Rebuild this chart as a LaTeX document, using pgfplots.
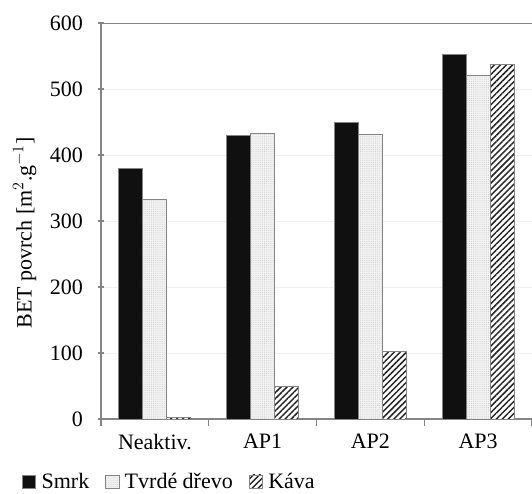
\documentclass[border=0pt]{standalone}
\usepackage{pgfplots}
\pgfplotsset{compat=1.18}
\usepackage{fontspec}
\setmainfont{Liberation Serif}
\usetikzlibrary{patterns,patterns.meta}
\definecolor{axgray}{HTML}{858585}
\definecolor{barblack}{HTML}{101010}
\begin{document}
\begin{tikzpicture}[font=\fontsize{16.5}{19}\selectfont]
\begin{axis}[
  scale only axis,
  width=323.25pt, height=297pt,
  xmin=-0.5, xmax=3.5,
  ymin=0, ymax=600,
  ytick={0,100,200,300,400,500,600},
  xtick={0,1,2,3},
  xticklabels={Neaktiv.,AP1,AP2,AP3},
  major x tick style={draw=none},
  minor xtick={-0.5,0.5,1.5,2.5,3.5},
  minor tick length=5pt,
  major tick length=4pt,
  tick align=outside,
  tick style={axgray, line width=0.8pt},
  axis lines=left,
  axis line style={axgray, line width=0.9pt, -},
  ymajorgrids,
  grid style={gray!12, line width=0.6pt},
  /pgf/number format/assume math mode=true,
  yticklabel style={xshift=-8pt},
  xticklabel style={yshift=-4pt},
  ylabel={BET povrch [m$^{2}$.g$^{-1}$]},
  ylabel style={at={(axis description cs:-0.177,0.47)}, anchor=center, rotate=0},
  ybar, bar width=18pt,
  legend style={at={(axis description cs:-0.183,-0.158)}, anchor=west, draw=none, fill=none,
    legend columns=-1, /tikz/every even column/.append style={column sep=10pt},
    /tikz/every odd column/.append style={column sep=2pt},
    inner sep=0pt, outer sep=0pt},
  legend image code/.code={\draw[#1, draw=axgray, line width=0.6pt] (0pt,-5pt) rectangle (10pt,5pt);},
]
\addplot[bar shift=-18pt, fill=barblack, draw=axgray, line width=0.6pt]
  coordinates {(0,379) (1,429) (2,449) (3,553)};
\addplot[bar shift=0pt, fill=gray!10, draw=axgray, line width=0.6pt,
  postaction={pattern={Dots[distance=1.6pt, radius=0.35pt]}, pattern color=gray!45}]
  coordinates {(0,332) (1,432) (2,431) (3,520)};
\addplot[bar shift=18pt, fill=white, draw=axgray, line width=0.6pt,
  postaction={pattern={Lines[angle=45, distance=3.2pt, line width=1.1pt]}, pattern color=black!85}]
  coordinates {(0,2) (1,50) (2,102) (3,537)};
\legend{Smrk,Tvrdé dřevo,Káva}
\draw[axgray, line width=0.9pt] (rel axis cs:0,1) -- (rel axis cs:1,1);
\end{axis}
\pgfresetboundingbox
\useasboundingbox (-75.75pt,-55.5pt) rectangle (323.25pt,314.25pt);
\end{tikzpicture}
\end{document}
